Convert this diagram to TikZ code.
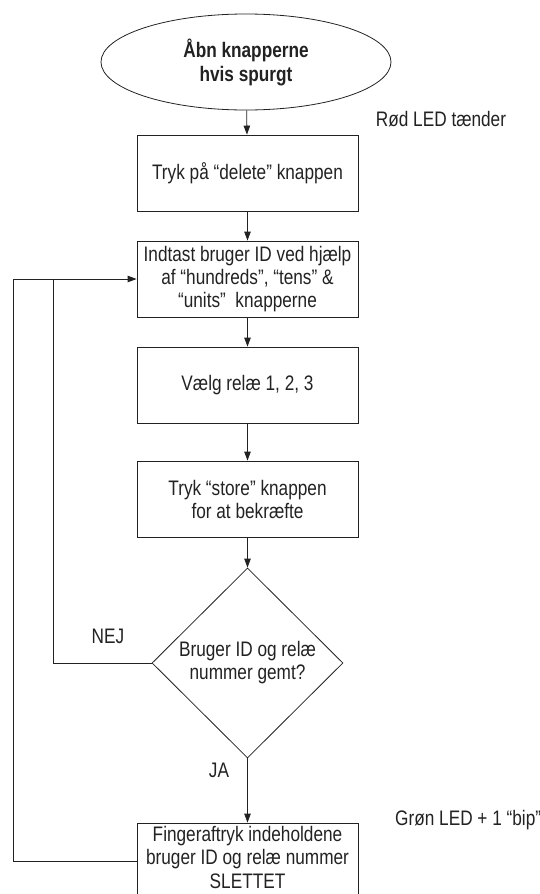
\documentclass[tikz,border=0pt]{standalone}
\usepackage{fontspec}
\setmainfont{Liberation Sans}[FakeStretch=0.82]
\usetikzlibrary{shapes.geometric,arrows.meta}
\definecolor{ink}{HTML}{222222}
\tikzset{
  every node/.style={text=ink},
  txt/.style={font=\fontsize{21}{23}\selectfont, align=center, inner sep=0pt},
  procbox/.style={txt, draw=ink, line width=0.8pt, minimum width=221pt, minimum height=76pt},
  startell/.style={txt, ellipse, draw=ink, line width=0.8pt, minimum width=290pt, minimum height=96pt, font=\fontsize{21}{24}\selectfont\bfseries},
  decide/.style={txt, diamond, draw=ink, line width=0.8pt, minimum width=191pt, minimum height=190pt},
  conn/.style={draw=ink, line width=0.8pt},
  arr/.style={conn, -{Triangle[length=9pt,width=6.5pt]}},
  lab/.style={font=\fontsize{21}{22}\selectfont, inner sep=0pt}
}
\begin{document}
\begin{tikzpicture}[x=1pt,y=-1pt]
\useasboundingbox (0,0) rectangle (540,894);
\clip (0,0) rectangle (540,894);
\node[startell] (start) at (246,62) {Åbn knapperne\\hvis spurgt};
\node[procbox] (b1) at (247.5,173) {Tryk på “delete” knappen};
\node[procbox] (b2) at (247.5,279) {\fontsize{21}{21.5}\selectfont Indtast bruger ID ved hjælp\\af “hundreds”, “tens” \&\\“units”\ \ knapperne};
\node[procbox] (b3) at (247.5,385) {Vælg relæ 1, 2, 3};
\node[procbox] (b4) at (247.5,499) {\fontsize{21}{25}\selectfont Tryk “store” knappen\\for at bekræfte};
\node[decide] (d) at (247.5,663) {\fontsize{21}{24}\selectfont Bruger ID og relæ\\nummer gemt?};
\node[procbox, align=none] (b5) at (247.5,861) {\fontsize{21}{23.5}\selectfont\raisebox{1pt}[\height][\depth]{\begin{tabular}{@{}c@{}}Fingeraftryk indeholdene\\bruger ID og relæ nummer\\SLETTET\end{tabular}}};
\node[lab] (red) at (441,119) {Rød LED tænder};
\node[lab, anchor=west] (green) at (395,820) {Grøn LED + 1 “bip”};
\node[lab] (nej) at (108,636) {NEJ};
\node[lab] (ja) at (219,770) {JA};
\coordinate (loopTop) at (13,279);
\coordinate (innerTop) at (53,279);
\draw[arr] (start) -- (b1);
\draw[arr] (b1) -- (b2);
\draw[arr] (b2) -- (b3);
\draw[arr] (b3) -- (b4);
\draw[arr] (b4) -- (d);
\draw[arr] (d) -- (b5);
\draw[arr] (b5.west) -| (loopTop) -- (b2.west);
\draw[conn] (d.west) -| (innerTop);
\end{tikzpicture}
\end{document}
